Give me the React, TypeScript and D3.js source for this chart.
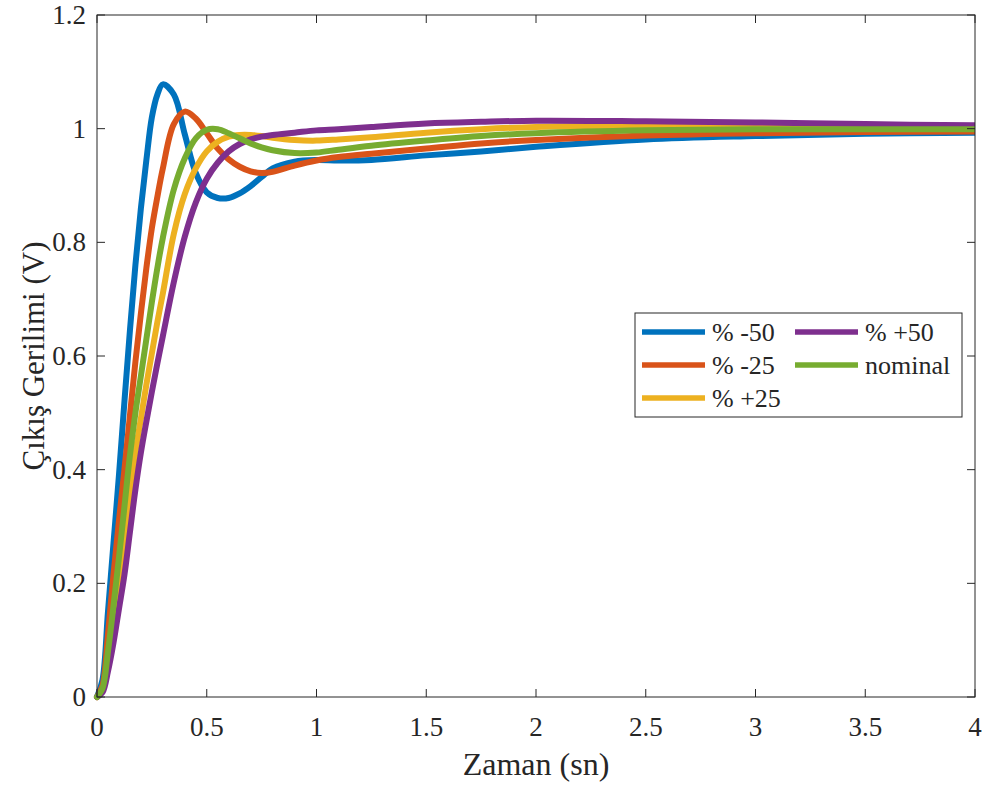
import * as d3 from "d3";

// zaman ekseni (sn)
const zaman = [
  0, 0.025, 0.05, 0.075, 0.1, 0.125, 0.15, 0.175, 0.2, 0.225, 0.25, 0.275,
  0.3, 0.35, 0.4, 0.45, 0.5, 0.55, 0.6, 0.65, 0.7, 0.75, 0.8, 0.9, 1.0, 1.1,
  1.25, 1.5, 1.75, 2.0, 2.5, 3.0, 3.5, 4.0,
];

// cikis gerilimi (V)
const eksi50 = [
  0, 0.03, 0.15, 0.27, 0.39, 0.52, 0.645, 0.76, 0.86, 0.945, 1.02, 1.06,
  1.078, 1.06, 0.99, 0.922, 0.888, 0.878, 0.878, 0.886, 0.899, 0.915, 0.93,
  0.942, 0.945, 0.944, 0.945, 0.953, 0.96, 0.968, 0.981, 0.987, 0.991, 0.993,
];
const eksi25 = [
  0, 0.02, 0.11, 0.215, 0.31, 0.4, 0.495, 0.59, 0.675, 0.755, 0.825, 0.88,
  0.93, 1.008, 1.03, 1.018, 0.992, 0.965, 0.946, 0.933, 0.925, 0.922, 0.924,
  0.935, 0.944, 0.95, 0.956, 0.965, 0.974, 0.98, 0.988, 0.992, 0.994, 0.995,
];
const arti25 = [
  0, 0.012, 0.065, 0.135, 0.205, 0.28, 0.36, 0.43, 0.49, 0.55, 0.605, 0.66,
  0.71, 0.815, 0.885, 0.93, 0.96, 0.977, 0.986, 0.989, 0.989, 0.987, 0.984,
  0.98, 0.979, 0.981, 0.985, 0.993, 0.999, 1.003, 1.005, 1.004, 1.003, 1.002,
];
const arti50 = [
  0, 0.008, 0.045, 0.095, 0.155, 0.215, 0.29, 0.365, 0.43, 0.485, 0.537,
  0.587, 0.635, 0.73, 0.81, 0.87, 0.912, 0.94, 0.96, 0.973, 0.981, 0.986,
  0.989, 0.993, 0.997, 0.999, 1.003, 1.009, 1.012, 1.014, 1.013, 1.011, 1.008,
  1.006,
];
const nominal = [
  0, 0.015, 0.08, 0.16, 0.245, 0.335, 0.425, 0.5, 0.565, 0.63, 0.695, 0.755,
  0.808, 0.893, 0.948, 0.983, 0.998, 0.999, 0.992, 0.983, 0.974, 0.967,
  0.962, 0.957, 0.958, 0.963, 0.97, 0.979, 0.987, 0.992, 0.997, 0.999, 0.999,
  0.999,
];

const seriesNames = ["% -50", "% -25", "% +25", "% +50", "nominal"];
const seriesValues = [eksi50, eksi25, arti25, arti50, nominal];
const seriesColors = ["#0072BD", "#D95319", "#EDB120", "#7E2F8E", "#77AC30"];

const xTicks = [0, 0.5, 1, 1.5, 2, 2.5, 3, 3.5, 4];
const yTicks = [0, 0.2, 0.4, 0.6, 0.8, 1, 1.2];

const W = 987;
const H = 787;
const FONT = "Liberation Serif";
const AXIS = "#262626";

const left = 97;
const right = 975;
const top = 15;
const bottom = 697;
const tickLen = 8;

const x = d3.scaleLinear().domain([0, 4]).range([left, right]);
const y = d3.scaleLinear().domain([0, 1.2]).range([bottom, top]);

const line = d3
  .line<number>()
  .x((_, i) => x(zaman[i]))
  .y((d) => y(d))
  .curve(d3.curveCatmullRom.alpha(0.5));

// legend layout: 3 rows in first column, rest in second
const legendCol = [642, 795];
const legendRow = [332, 365, 398];

const App = () => {
  return (
    <svg
      width={W}
      height={H}
      style={{ position: "absolute", left: 0, top: 0 }}
    >
      <rect width={W} height={H} fill="#fff" />
      <defs>
        <clipPath id="plotclip">
          <rect
            x={left - 4}
            y={top}
            width={right - left + 4}
            height={bottom - top + 4}
          />
        </clipPath>
      </defs>

      {/* curves */}
      <g clipPath="url(#plotclip)">
        {seriesValues.map((vals, k) => (
          <path
            key={seriesNames[k]}
            d={line(vals) || ""}
            fill="none"
            stroke={seriesColors[k]}
            strokeWidth={6}
            strokeLinejoin="round"
            strokeLinecap="round"
          />
        ))}
      </g>

      {/* axes box and ticks */}
      <g stroke={AXIS} strokeWidth={1}>
        <rect
          x={left}
          y={top}
          width={right - left}
          height={bottom - top}
          fill="none"
        />
        {xTicks.map((t) => (
          <g key={"xt" + t}>
            <line x1={x(t)} x2={x(t)} y1={bottom} y2={bottom - tickLen} />
            <line x1={x(t)} x2={x(t)} y1={top} y2={top + tickLen} />
          </g>
        ))}
        {yTicks.map((t) => (
          <g key={"yt" + t}>
            <line x1={left} x2={left + tickLen} y1={y(t)} y2={y(t)} />
            <line x1={right} x2={right - tickLen} y1={y(t)} y2={y(t)} />
          </g>
        ))}
      </g>

      <g style={{ fontFamily: FONT }} fill={AXIS}>
        {xTicks.map((t) => (
          <text key={"xl" + t} x={x(t)} y={736} textAnchor="middle" fontSize={27}>
            {String(t)}
          </text>
        ))}
        {yTicks.map((t) => (
          <text key={"yl" + t} x={86} y={y(t) + 9} textAnchor="end" fontSize={27}>
            {String(t)}
          </text>
        ))}
        <text x={(left + right) / 2} y={775} textAnchor="middle" fontSize={32}>
          Zaman (sn)
        </text>
        <text
          transform={`translate(44, ${(top + bottom) / 2}) rotate(-90)`}
          textAnchor="middle"
          fontSize={31}
        >
          Çıkış Gerilimi (V)
        </text>
      </g>

      {/* legend */}
      <g>
        <rect
          x={635}
          y={313}
          width={327}
          height={104}
          fill="#fff"
          stroke={AXIS}
          strokeWidth={1}
        />
        {seriesNames.map((name, k) => {
          const lx = legendCol[k < 3 ? 0 : 1];
          const ly = legendRow[k < 3 ? k : k - 3];
          return (
            <g key={"lg" + name}>
              <line
                x1={lx}
                x2={lx + 63}
                y1={ly}
                y2={ly}
                stroke={seriesColors[k]}
                strokeWidth={5.5}
              />
              <text
                x={lx + 70}
                y={ly + 9}
                fontSize={26}
                fill={AXIS}
                style={{ fontFamily: FONT }}
              >
                {name}
              </text>
            </g>
          );
        })}
      </g>
    </svg>
  );
};

export default App;
